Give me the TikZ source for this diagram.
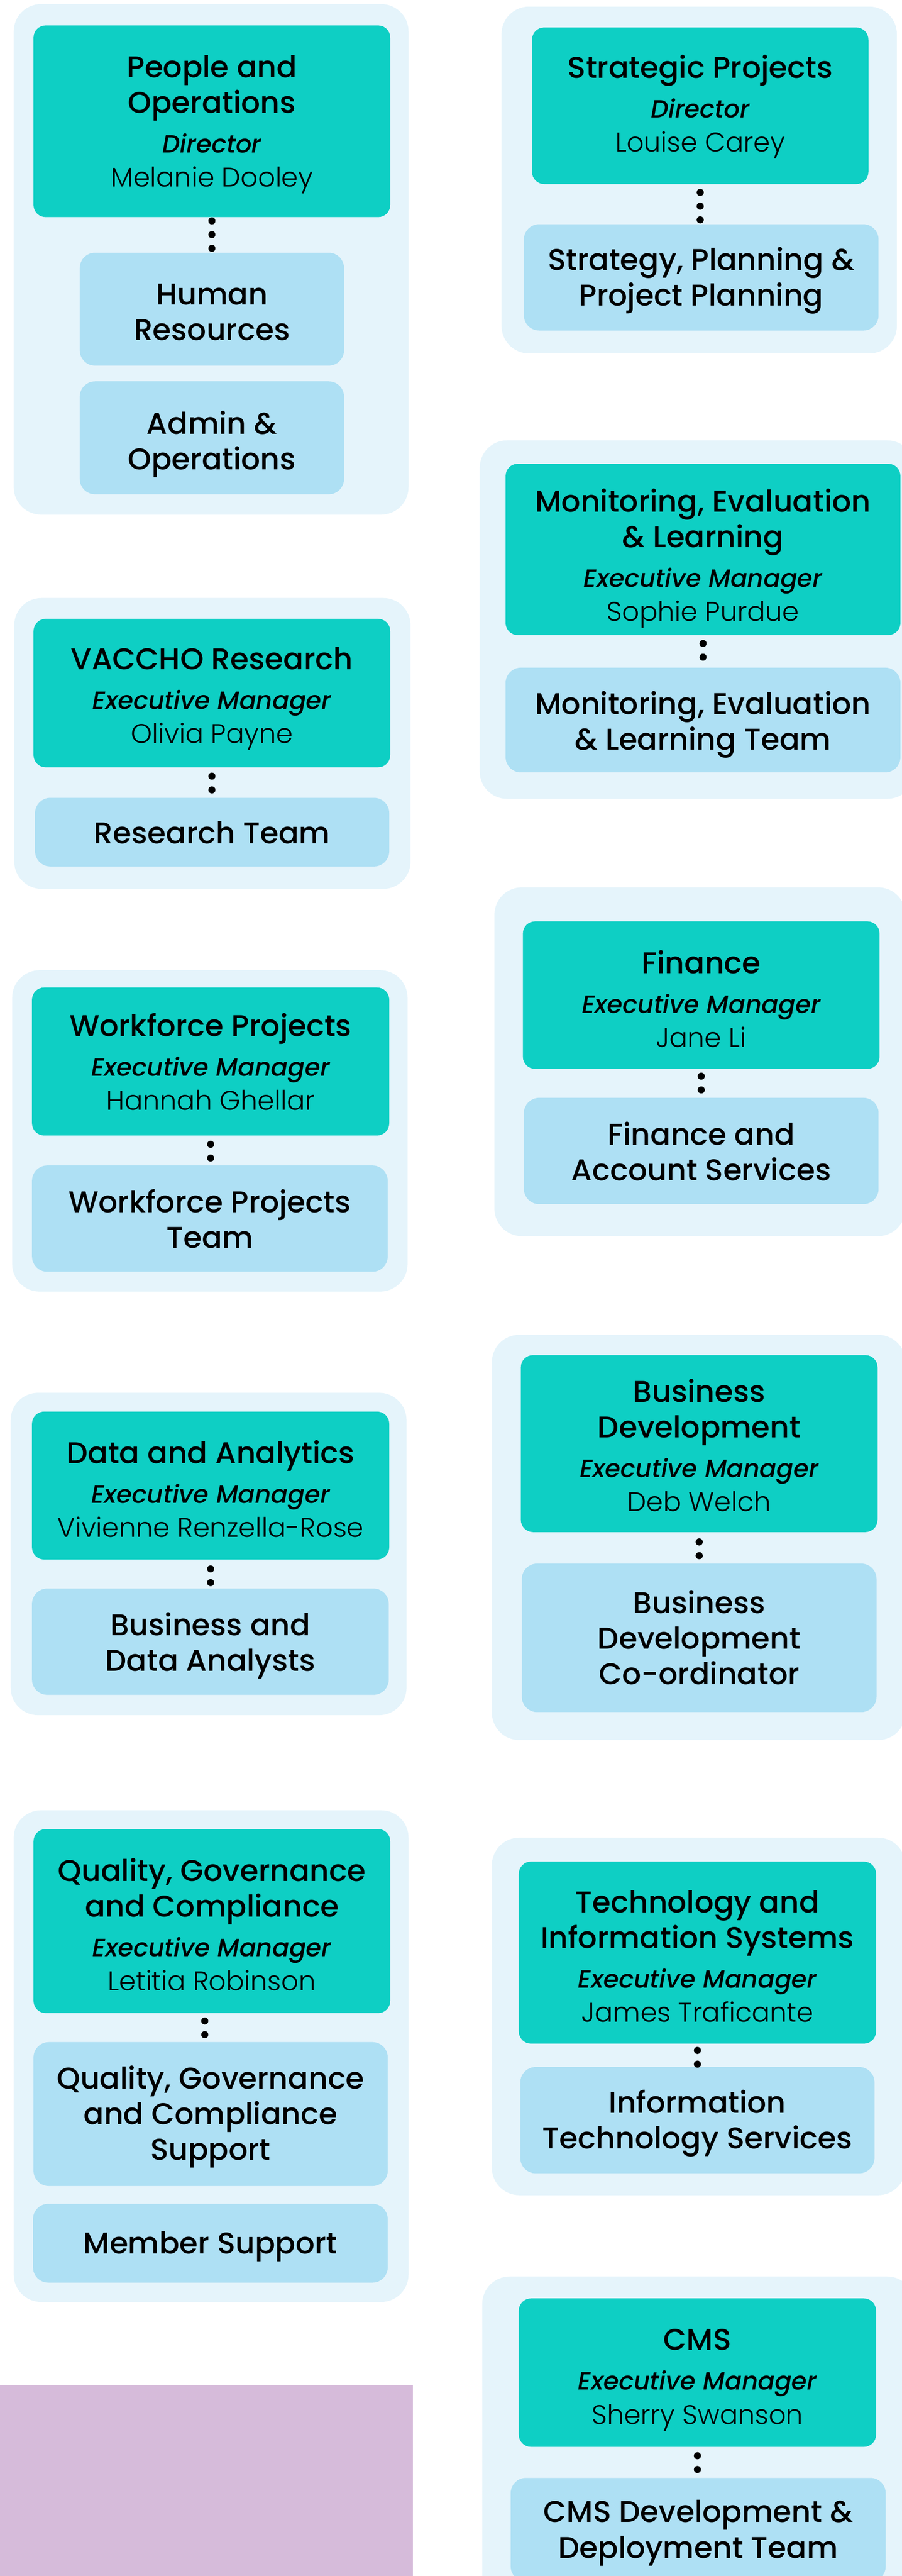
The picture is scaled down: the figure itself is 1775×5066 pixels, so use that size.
\documentclass[tikz,border=0pt]{standalone}
\usepackage{fontspec}
\usetikzlibrary{fit}
\IfFontExistsTF{Poppins Medium}{\newfontfamily\fTitle{Poppins Medium}}{\newfontfamily\fTitle{Poppins}[FakeBold=1.2]}
\IfFontExistsTF{Poppins Light}{\newfontfamily\fName{Poppins Light}}{\newfontfamily\fName{Poppins}}
\IfFontExistsTF{Poppins Medium Italic}{\newfontfamily\fItal{Poppins Medium Italic}}{\newfontfamily\fItal{Poppins}[FakeSlant=0.2,FakeBold=1.2]}
\definecolor{outerc}{RGB}{229,244,251}
\definecolor{darkc}{RGB}{14,207,196}
\definecolor{lightc}{RGB}{174,224,244}
\definecolor{purplec}{RGB}{214,187,218}
\newcommand\roleit[1]{{\fItal\fontsize{24.5pt}{35pt}\selectfont #1}}
\newcommand\pname[1]{{\fName\fontsize{26.5pt}{35pt}\selectfont #1}}
\tikzset{
  outer/.style={fill=outerc, rounded corners=27pt, inner sep=0pt},
  darkbox/.style={fill=darkc, rounded corners=12pt, inner sep=0pt},
  lightbox/.style={fill=lightc, rounded corners=15pt, inner sep=0pt},
  boxtext/.style={inner sep=0pt, align=center, text=black,
    font=\fTitle\fontsize{29.5pt}{35pt}\selectfont},
  purplebox/.style={fill=purplec, inner sep=0pt},
  dotconn/.style={line width=7pt, line cap=round, dash pattern=on 0pt off 13.5pt, black},
}
% #1 style, #2 name, #3 #4 corners, #5 text shift, #6 text
\newcommand\orgbox[6]{%
  \node[#1, fit={#3 #4}] (#2) {};
  \node[boxtext, yshift=#5] (#2-txt) at (#2.center) {#6};}
\begin{document}
\begin{tikzpicture}[x=0.5pt,y=-0.5pt]
\useasboundingbox (0,0) rectangle (1775,5066);
\clip (0,0) rectangle (1775,5066);
% ---------- left column ----------
\node[outer, fit={(27,8)(804,1012)}] (po) {};
\orgbox{darkbox}{po-d}{(66,50)}{(768,427)}{-3.3pt}{People and\\Operations\\[4pt]\roleit{Director}\\[-1.5pt]\pname{Melanie Dooley}}
\orgbox{lightbox}{po-hr}{(157,497)}{(677,719)}{-3.2pt}{Human\\Resources}
\orgbox{lightbox}{po-ao}{(157,750)}{(677,972)}{-6.2pt}{Admin \&\\Operations}

\node[outer, fit={(28,1176)(808,1748)}] (vr) {};
\orgbox{darkbox}{vr-d}{(66,1217)}{(768,1509)}{-5.7pt}{VACCHO Research\\[4pt]\roleit{Executive Manager}\\[-1.5pt]\pname{Olivia Payne}}
\orgbox{lightbox}{vr-t}{(69,1569)}{(766,1704)}{-0.6pt}{Research Team}

\node[outer, fit={(24,1908)(802,2540)}] (wf) {};
\orgbox{darkbox}{wf-d}{(63,1942)}{(766,2233)}{-0.2pt}{Workforce Projects\\[4pt]\roleit{Executive Manager}\\[-1.5pt]\pname{Hannah Ghellar}}
\orgbox{lightbox}{wf-t}{(63,2292)}{(763,2501)}{-0.1pt}{Workforce Projects\\Team}

\node[outer, fit={(21,2739)(800,3373)}] (da) {};
\orgbox{darkbox}{da-d}{(63,2776)}{(766,3067)}{-3.2pt}{Data and Analytics\\[4pt]\roleit{Executive Manager}\\[-1.5pt]\pname{Vivienne Renzella-Rose}}
\orgbox{lightbox}{da-t}{(63,3124)}{(765,3333)}{-3.7pt}{Business and\\Data Analysts}

\node[outer, fit={(27,3560)(804,4527)}] (qg) {};
\orgbox{darkbox}{qg-d}{(66,3597)}{(768,3959)}{-3.2pt}{Quality, Governance\\and Compliance\\[4pt]\roleit{Executive Manager}\\[-1.5pt]\pname{Letitia Robinson}}
\orgbox{lightbox}{qg-s}{(66,4016)}{(763,4299)}{-2.7pt}{Quality, Governance\\and Compliance\\Support}
\orgbox{lightbox}{qg-m}{(65,4334)}{(763,4489)}{-3.2pt}{Member Support}

\node[purplebox, fit={(0,4691)(813,5080)}] (pp) {};

% ---------- right column ----------
\node[outer, fit={(987,13)(1765,695)}] (sp) {};
\orgbox{darkbox}{sp-d}{(1047,54)}{(1709,362)}{-1.2pt}{Strategic Projects\\[4pt]\roleit{Director}\\[-1.5pt]\pname{Louise Carey}}
\orgbox{lightbox}{sp-t}{(1031,441)}{(1729,650)}{-3.2pt}{Strategy, Planning \&\\Project Planning}

\node[outer, fit={(944,866)(1800,1571)}] (ml) {};
\orgbox{darkbox}{ml-d}{(995,912)}{(1772,1249)}{-8.7pt}{Monitoring, Evaluation\\\& Learning\\[4pt]\roleit{Executive Manager}\\[-1.5pt]\pname{Sophie Purdue}}
\orgbox{lightbox}{ml-t}{(995,1313)}{(1772,1519)}{-4.7pt}{Monitoring, Evaluation\\\& Learning Team}

\node[outer, fit={(973,1745)(1782,2431)}] (fn) {};
\orgbox{darkbox}{fn-d}{(1029,1812)}{(1731,2102)}{-3.7pt}{Finance\\[4pt]\roleit{Executive Manager}\\[-1.5pt]\pname{Jane Li}}
\orgbox{lightbox}{fn-t}{(1031,2159)}{(1729,2368)}{-0.2pt}{Finance and\\Account Services}

\node[outer, fit={(968,2625)(1782,3422)}] (bd) {};
\orgbox{darkbox}{bd-d}{(1025,2665)}{(1727,3013)}{-1.7pt}{Business\\Development\\[4pt]\roleit{Executive Manager}\\[-1.5pt]\pname{Deb Welch}}
\orgbox{lightbox}{bd-t}{(1027,3075)}{(1725,3367)}{0.4pt}{Business\\Development\\Co-ordinator}

\node[outer, fit={(968,3614)(1782,4317)}] (ti) {};
\orgbox{darkbox}{ti-d}{(1021,3661)}{(1724,4019)}{-3.7pt}{Technology and\\Information Systems\\[4pt]\roleit{Executive Manager}\\[-1.5pt]\pname{James Traficante}}
\orgbox{lightbox}{ti-t}{(1024,4065)}{(1721,4274)}{-3.2pt}{Information\\Technology Services}

\node[outer, fit={(949,4477)(1800,5150)}] (cm) {};
\orgbox{darkbox}{cm-d}{(1021,4520)}{(1724,4812)}{-7.3pt}{CMS\\[4pt]\roleit{Executive Manager}\\[-1.5pt]\pname{Sherry Swanson}}
\orgbox{lightbox}{cm-t}{(1005,4873)}{(1743,5077)}{-3.2pt}{CMS Development \&\\Deployment Team}

% ---------- dotted connectors ----------
\draw[dotconn, shorten <=3.5pt, shorten >=3.5pt] (po-d.south) -- (po-d.south |- po-hr.north);
\draw[dotconn, shorten <=8pt, shorten >=3.5pt] (sp-d.south) -- (sp-d.south |- sp-t.north);
\draw[dotconn, shorten <=8pt, shorten >=9.5pt] (ml-d.south) -- (ml-d.south |- ml-t.north);
\draw[dotconn, shorten <=8.5pt, shorten >=7pt] (vr-d.south) -- (vr-d.south |- vr-t.north);
\draw[dotconn, shorten <=7pt, shorten >=7pt] (fn-d.south) -- (fn-d.south |- fn-t.north);
\draw[dotconn, shorten <=8.5pt, shorten >=6.5pt] (wf-d.south) -- (wf-d.south |- wf-t.north);
\draw[dotconn, shorten <=9pt, shorten >=5pt] (da-d.south) -- (da-d.south |- da-t.north);
\draw[dotconn, shorten <=9.5pt, shorten >=7pt] (bd-d.south) -- (bd-d.south |- bd-t.north);
\draw[dotconn, shorten <=6.5pt, shorten >=2pt] (ti-d.south) -- (ti-d.south |- ti-t.north);
\draw[dotconn, shorten <=7.5pt, shorten >=6.5pt] ([xshift=-7pt]qg-d.south) -- ([xshift=-7pt]qg-d.south |- qg-s.north);
\draw[dotconn, shorten <=8.5pt, shorten >=7.5pt] (cm-d.south) -- (cm-d.south |- cm-t.north);
\end{tikzpicture}
\end{document}
